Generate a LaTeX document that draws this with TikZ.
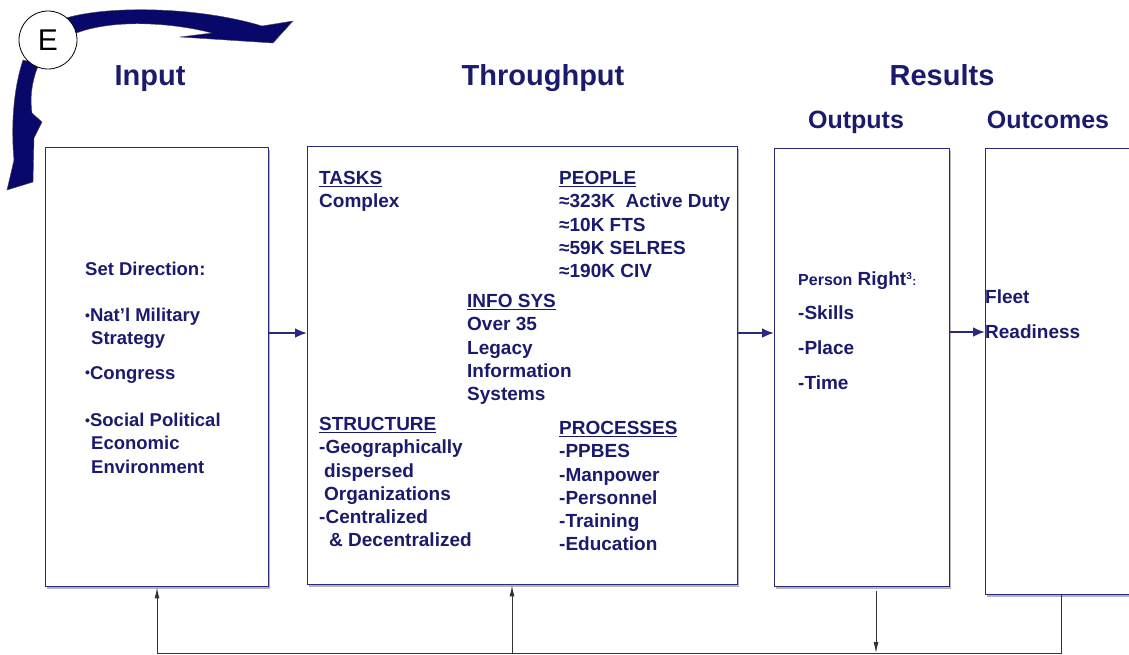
\documentclass[tikz,border=0pt]{standalone}
\usepackage{fontspec}
\setmainfont{Liberation Sans}
\usetikzlibrary{arrows.meta, positioning, calc, shadows}
\definecolor{navytext}{HTML}{1B1B6E}
\definecolor{navyline}{HTML}{2A2A7C}
\definecolor{navyfill}{HTML}{08086A}
\definecolor{shadowgray}{HTML}{B4B4BC}

\tikzset{
  panel/.style={draw=navyline, line width=1.4pt, fill=white, anchor=north west,
    inner sep=0pt, drop shadow={shadow xshift=1pt, shadow yshift=-2pt, fill=shadowgray, opacity=1}},
  heading/.style={font=\bfseries\fontsize{29}{31}\selectfont, text=navytext, anchor=base},
  subheading/.style={font=\bfseries\fontsize{25}{27}\selectfont, text=navytext, anchor=base},
  body/.style={font=\bfseries\fontsize{19}{23.3}\selectfont, text=navytext, align=left,
    anchor=north west, inner sep=0pt},
  flow/.style={navyline, line width=2.4pt, -{Latex[length=12pt,width=10pt]}},
  feedback/.style={black!80, line width=1pt},
  fbarrow/.style={feedback, -{Latex[length=11pt,width=5pt]}},
}
\newcommand{\dotb}{{\fontsize{14}{14}\selectfont\raisebox{1.5pt}{•}}}

\begin{document}
\begin{tikzpicture}[x=1pt, y=-1pt]
    \useasboundingbox (0,0) rectangle (1129,654);
    \clip (0,0) rectangle (1129,654);

    % Headings
    \node[heading] (hinput) at (150,85) {Input};
    \node[heading] (hthrough) at (543,85) {Throughput};
    \node[heading] (hresults) at (942,85) {Results};
    \node[subheading] (houtputs) at (856,128) {Outputs};
    \node[subheading] (houtcomes) at (1048,128) {Outcomes};

    % Panels
    \node[panel, minimum width=223pt, minimum height=439pt] (input) at (45,147) {};
    \node[panel, minimum width=430pt, minimum height=438pt] (tput) at (307,146) {};
    \node[panel, minimum width=175pt, minimum height=438pt] (outputs) at (774,148) {};
    \node[panel, minimum width=160pt, minimum height=446pt] (outcomes) at (985,148) {};

    % Input text
    \node[body, font=\bfseries\fontsize{18.5}{23.3}\selectfont] (setdir) at (85,262) {Set Direction:};
    \node[body, font=\bfseries\fontsize{18.5}{23.3}\selectfont] (natl) at (85,308)
      {\dotb Nat’l Military\\ \hspace*{6pt}Strategy};
    \node[body, font=\bfseries\fontsize{18.5}{23.3}\selectfont] (congress) at (85,366) {\dotb Congress};
    \node[body, font=\bfseries\fontsize{18.5}{23.3}\selectfont] (social) at (85,413)
      {\dotb Social Political\\ \hspace*{6pt}Economic\\ \hspace*{6pt}Environment};

    % Throughput text
    \node[body] (tasks) at (319,171) {\underline{TASKS}\\Complex};
    \node[body] (people) at (559,171)
      {\underline{PEOPLE}\\≈323K\ \ Active Duty\\≈10K FTS\\≈59K SELRES\\≈190K CIV};
    \node[body] (infosys) at (467,294)
      {\underline{INFO SYS}\\Over 35\\Legacy\\Information\\Systems};
    \node[body] (structure) at (319,417)
      {\underline{STRUCTURE}\\-Geographically\\ \hspace*{5pt}dispersed\\ \hspace*{5pt}Organizations\\-Centralized\\ \hspace*{10pt}\& Decentralized};
    \node[body] (processes) at (559,421)
      {\underline{PROCESSES}\\-PPBES\\-Manpower\\-Personnel\\-Training\\-Education};

    % Outputs / outcomes text
    \node[body] (person) at (798,272)
      {{\fontsize{16}{16}\selectfont Person} Right\textsuperscript{\fontsize{10}{10}\selectfont 3}{\fontsize{12}{12}\selectfont :}};
    \node[body, font=\bfseries\fontsize{19}{35}\selectfont] (skills) at (798,306) {-Skills\\-Place\\-Time};
    \node[body, font=\bfseries\fontsize{19}{35}\selectfont] (fleet) at (985,290) {Fleet\\Readiness};

    % Flow arrows
    \draw[flow] (input.east |- 0,333) -- (tput.west |- 0,333);
    \draw[flow] (tput.east |- 0,333) -- (outputs.west |- 0,333);
    \draw[flow] (outputs.east |- 0,332) -- (outcomes.west |- 0,332);

    % Feedback loop
    \coordinate (fbR) at (1061,653);
    \coordinate (fbL) at (157,653);
    \coordinate (fbM) at (512,653);
    \coordinate (fbD) at (876,653);
    \draw[feedback] (outcomes.south -| fbR) -- (fbR) -- (fbL);
    \draw[fbarrow] (fbL) -- (fbL |- input.south);
    \draw[fbarrow] (fbM) -- (fbM |- tput.south);
    \draw[fbarrow] ([yshift=-4pt]outputs.south -| fbD) -- (fbD);

    % Environment arrows
    \fill[navyfill, draw=black!70, line width=0.4pt]
      (66,18) .. controls (110,5) and (200,7) .. (262,26) -- (293,21) -- (273,43)
      -- (180,37) -- (212,33) .. controls (170,22) and (110,19) .. (74,34) -- cycle;
    \fill[navyfill, draw=black!70, line width=0.4pt]
      (39,64) .. controls (31,82) and (30,100) .. (32,113) -- (42,122) -- (34,138)
      -- (33,182) -- (7,190) -- (14,160) .. controls (11,128) and (13,90) .. (23,60) -- cycle;
    \node[draw=black, line width=0.8pt, fill=white, circle, minimum size=58pt, inner sep=0pt,
      font=\fontsize{30}{30}\selectfont] (env) at (48,40) {E};
\end{tikzpicture}
\end{document}
